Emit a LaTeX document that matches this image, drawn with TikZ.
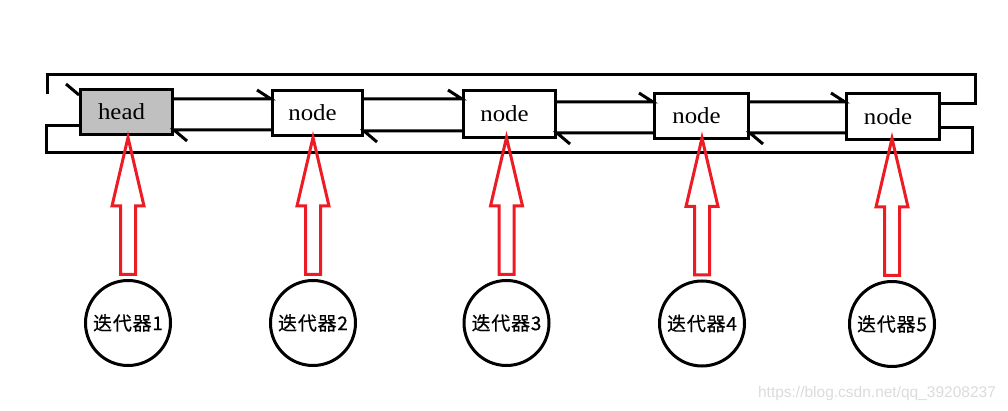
\documentclass[tikz,border=0pt]{standalone}
\usepackage{fontspec}
\setmainfont{Liberation Serif}
\newfontfamily\latf[FakeStretch=1.08]{Liberation Serif}
\newfontfamily\cjk[LetterSpace=4,FakeBold=0.5]{Noto Sans CJK SC}
\newfontfamily\wmf{Liberation Sans}
\definecolor{paintred}{RGB}{237,28,36}
\definecolor{headgray}{RGB}{192,192,192}
\tikzset{
  ln/.style={line width=3pt},
  box/.style={draw, line width=3pt, inner sep=0pt, font=\latf\fontsize{23}{23}\selectfont,
    execute at begin node={\hspace*{-10pt}}},
  iter/.style={draw, circle, line width=3pt, inner sep=0pt, minimum size=85pt, font=\cjk\fontsize{19}{19}\selectfont},
  redar/.style={draw=paintred, line width=3pt, miter limit=20},
  wm/.style={text=black!14, font=\wmf\fontsize{15.5}{15.5}\selectfont, inner sep=0pt}
}
\newcommand\blockarrow[1]{%
  \draw[redar] ([yshift=4.5pt]#1.north) ++(-7.5,0) -- ++(0,-68.5) -- ++(-8.5,0)
     -- ++(16,-68.5) -- ++(16,68.5) -- ++(-8.5,0) -- ++(0,68.5) -- cycle;}
\begin{document}
\begin{tikzpicture}[x=1pt,y=-1pt]
\useasboundingbox (0,0) rectangle (1008,411);
% boxes
\node[box, fill=headgray, minimum width=92pt, minimum height=45pt] (head) at (126.5,112) {head};
\node[box, minimum width=90pt, minimum height=45pt] (n2) at (317.5,113) {node};
\node[box, minimum width=92pt, minimum height=47pt] (n3) at (509.5,114) {node};
\node[box, minimum width=94pt, minimum height=45pt] (n4) at (701.5,116) {node};
\node[box, minimum width=93pt, minimum height=46pt] (n5) at (893,116.5) {node};
% iterators
\node[iter] (c1) at (128,323) {迭代器1};
\node[iter] (c2) at (313,323) {迭代器2};
\node[iter] (c3) at (506.5,323) {迭代器3};
\node[iter] (c4) at (702,323.5) {迭代器4};
\node[iter] (c5) at (892,324) {迭代器5};
% forward links (top)
\coordinate (t1) at (head.east |- 0,99);
\coordinate (t2) at (n2.east |- 0,99);
\coordinate (t3) at (n3.east |- 0,102);
\coordinate (t4) at (n4.east |- 0,102);
\draw[ln] (t1) -- (t1 -| n2.west) -- ++(-14,-9);
\draw[ln] (t2) -- (t2 -| n3.west) -- ++(-14,-9);
\draw[ln] (t3) -- (t3 -| n4.west) -- ++(-14,-9);
\draw[ln] (t4) -- (t4 -| n5.west) -- ++(-14,-9);
% backward links (bottom)
\coordinate (b1) at (n2.west |- 0,130);
\coordinate (b2) at (n3.west |- 0,131);
\coordinate (b3) at (n4.west |- 0,133);
\coordinate (b4) at (n5.west |- 0,133);
\draw[ln] (b1) -- (b1 -| head.east) -- ++(13,11);
\draw[ln] (b2) -- (b2 -| n2.east) -- ++(13,11);
\draw[ln] (b3) -- (b3 -| n3.east) -- ++(13,11);
\draw[ln] (b4) -- (b4 -| n4.east) -- ++(13,11);
% outer loop top: last -> head
\coordinate (o1) at (n5.east |- 0,104);
\coordinate (otr) at (975,75);
\coordinate (otl) at (47,94);
\draw[ln] (o1) -| (otr) -| (otl);
\coordinate (hin) at (head.west |- 0,95);
\draw[ln] (hin) -- ++(-13,-11);
% outer loop bottom: head -> last
\coordinate (o2) at (head.west |- 0,126);
\coordinate (obl) at (46,153);
\coordinate (obr) at (972,128);
\draw[ln] (o2) -| (obl) -| (obr) -- (obr -| n5.east);
% red block arrows
\blockarrow{c1}
\blockarrow{c2}
\blockarrow{c3}
\blockarrow{c4}
\blockarrow{c5}
% watermark
\node[wm] (wmark) at (877,393) {https://blog.csdn.net/qq\_39208237};
\end{tikzpicture}
\end{document}
